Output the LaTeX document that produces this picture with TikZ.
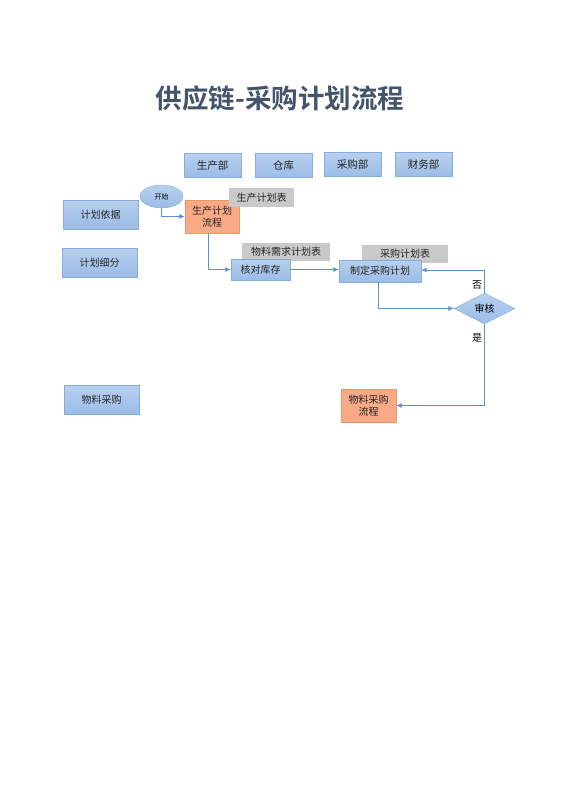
\documentclass[tikz,border=0pt]{standalone}
\usepackage{fontspec}
\setmainfont{Noto Sans CJK SC}[BoldFont={Noto Sans CJK SC Bold}]
\usetikzlibrary{shapes.geometric,arrows.meta}
\definecolor{titlegray}{HTML}{44546A}
\definecolor{bluetop}{HTML}{B8D0EF}
\definecolor{bluebot}{HTML}{9BBCE6}
\definecolor{blueline}{HTML}{86ACDD}
\definecolor{orangefill}{HTML}{F7AA85}
\definecolor{orangeline}{HTML}{EE9466}
\definecolor{labelgray}{HTML}{C9C9C9}
\definecolor{flowline}{HTML}{5F8FD8}
\begin{document}
\begin{tikzpicture}[x=1pt, y=-1pt,
    bluebox/.style={rectangle, draw=blueline, top color=bluetop, bottom color=bluebot, font=\fontsize{10}{12}\selectfont, text=black!85, inner sep=0pt},
    deptbox/.style={bluebox, minimum width=57pt, minimum height=24pt, font=\fontsize{10.5}{12}\selectfont},
    sidebox/.style={bluebox, minimum width=75pt, minimum height=29pt},
    flowbox/.style={rectangle, draw=orangeline, fill=orangefill, font=\fontsize{10}{11.5}\selectfont, text=black!85, align=center, inner sep=0pt, minimum width=54pt, minimum height=33pt},
    tablabel/.style={rectangle, fill=labelgray, font=\fontsize{10}{12}\selectfont, text=black!85, inner sep=0pt, minimum height=18pt},
    flow/.style={draw=flowline, line width=0.8pt, -{Latex[length=5.5pt,width=5pt]}}]
\useasboundingbox (0,0) rectangle (560,792);

% Title
\node (title) at (280,98) {\fontsize{26.5}{31}\selectfont\bfseries\color{titlegray}供应链-采购计划流程};

% Nodes
\node (prod) [deptbox] at (212.5,165.5) {生产部};
\node (store) [deptbox] at (283.5,165.5) {仓库};
\node (purch) [deptbox] at (352.5,164.5) {采购部};
\node (fin) [deptbox] at (423.5,164.5) {财务部};

\node (basis) [sidebox] at (100.5,214.5) {计划依据};
\node (detail) [sidebox] at (99.5,262.5) {计划细分};
\node (buy) [sidebox] at (101.5,399.5) {物料采购};

\node (start) [ellipse, draw=blueline, top color=bluetop, bottom color=bluebot, minimum width=43pt, minimum height=23pt, inner sep=0pt, font=\fontsize{7}{8}\selectfont] at (161.5,196.5) {开始};
\node (prodflow) [flowbox] at (212,216.5) {生产计划\\流程};
\node (prodtab) [tablabel, minimum width=65pt, minimum height=19pt] at (261.5,197.5) {生产计划表};

\node (needtab) [tablabel, minimum width=88pt] at (286,252) {物料需求计划表};
\node (check) [bluebox, minimum width=59pt, minimum height=21pt] at (260.5,269.5) {核对库存};

\node (plantab) [tablabel, minimum width=86pt] at (405,254) {采购计划表};
\node (plan) [bluebox, minimum width=82pt, minimum height=22pt] at (380,271) {制定采购计划};

\node (audit) [diamond, draw=blueline, top color=bluetop, bottom color=bluebot, minimum width=61pt, minimum height=31pt, inner sep=0pt, font=\fontsize{10}{12}\selectfont] at (484.5,308.5) {审核};

\node (purflow) [flowbox, minimum width=55pt] at (368.5,405.5) {物料采购\\流程};

% Edges
\draw[flow] (start) |- (prodflow);
\draw[flow] ([xshift=-4pt]prodflow.south) |- (check);
\draw[flow] (check) -- (check -| plan.west);
\draw[flow] ([xshift=-2pt]plan.south) |- (audit);
\draw[flow] (audit.north) |- ([yshift=1pt]plan.east);
\draw[flow] (audit.south) |- (purflow.east);
% decision labels
\node (no) [font=\fontsize{10}{12}\selectfont] at (477,285) {否};
\node (yes) [font=\fontsize{10}{12}\selectfont] at (477,338) {是};

\end{tikzpicture}
\end{document}
